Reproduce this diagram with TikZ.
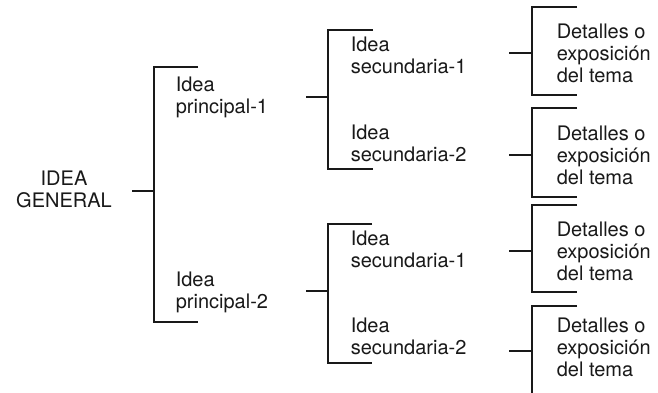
\documentclass[tikz,border=0pt]{standalone}
\usepackage{fontspec}
\setmainfont{TeX Gyre Heros}
\usetikzlibrary{positioning}

% bracket: stub coordinate, spine x, top y, bottom y, tick end x
\newcommand{\idbracket}[5]{%
  \coordinate (#1t) at (#2,#3);
  \coordinate (#1b) at (#2,#4);
  \draw (#1) -- (#1 -| #1t);
  \draw (#5,#3) -- (#1t) -- (#1b) -- (#5,#4);
}

\begin{document}
\begin{tikzpicture}[x=1pt,y=-1pt,line width=1.6pt,color=black!90,
  idea/.style={anchor=west,align=left,inner sep=0pt,font=\fontsize{20}{22}\selectfont},
  general/.style={align=center,inner sep=0pt,font=\fontsize{20}{22}\selectfont}]
\clip (0,0) rectangle (658,392);
\fill[white] (0,0) rectangle (658,392);
% texts
\node[general] (gen) at (64,189) {IDEA\\GENERAL};
\node[idea] (p1) at (175,97) {Idea\\principal-1};
\node[idea] (p2) at (175,292) {Idea\\principal-2};
\node[idea] (s11) at (350,55) {Idea\\secundaria-1};
\node[idea] (s12) at (350,143) {Idea\\secundaria-2};
\node[idea] (s21) at (350,249) {Idea\\secundaria-1};
\node[idea] (s22) at (350,336) {Idea\\secundaria-2};
\foreach \n/\y in {d11/53,d12/155,d21/251,d22/347}
  \node[idea] (\n) at (556,\y) {Detalles o\\exposición\\del tema};
% stubs
\coordinate (g0) at (132,191);
\coordinate (p1s) at (306,97);
\coordinate (p2s) at (306,291);
\coordinate (s11s) at (509,53);
\coordinate (s12s) at (509,155);
\coordinate (s21s) at (509,251);
\coordinate (s22s) at (509,351);
% brackets
\idbracket{g0}{154}{67}{322}{198}
\idbracket{p1s}{328}{30}{169}{373}
\idbracket{p2s}{328}{224}{363}{372}
\idbracket{s11s}{532}{7}{95}{577}
\idbracket{s12s}{532}{108}{197}{577}
\idbracket{s21s}{532}{205}{292}{577}
\idbracket{s22s}{532}{306}{400}{577}
\end{tikzpicture}
\end{document}
